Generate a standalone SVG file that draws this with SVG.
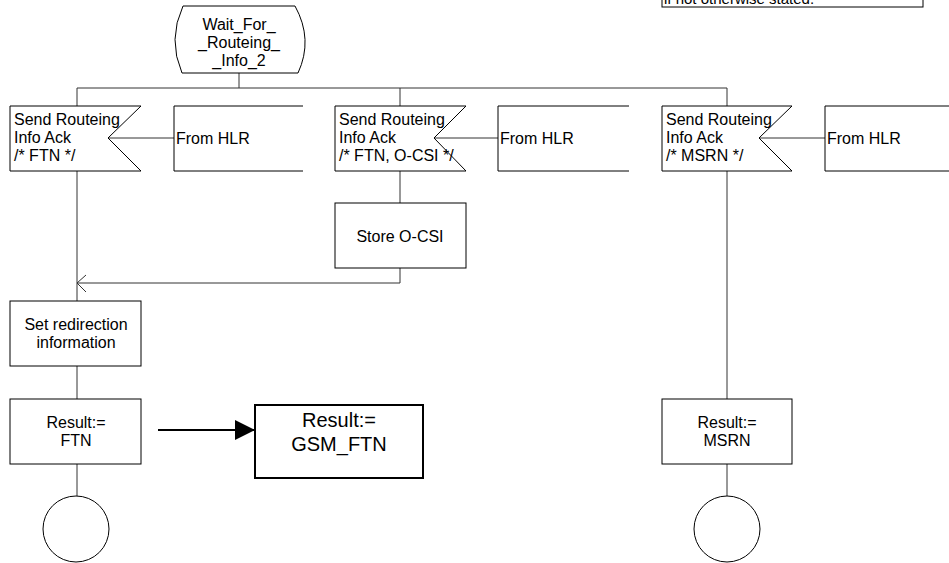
<svg xmlns="http://www.w3.org/2000/svg" width="949" height="563" viewBox="0 0 949 563">
<style>
text{font-family:"Liberation Sans",Arial,sans-serif;font-size:16px;fill:#000}
.s{fill:#fff;stroke:#000;stroke-width:1}
.c{fill:none;stroke:#333;stroke-width:1}
.m{text-anchor:middle}
</style>
<defs>
<marker id="fa" markerWidth="20" markerHeight="20" refX="20" refY="10" orient="auto" markerUnits="userSpaceOnUse"><path d="M0,0 L20,10 L0,20 Z" fill="#000"/></marker>
</defs>
<rect width="949" height="563" fill="#fff"/>
<g id="connectors">
<path class="c" d="M239,73 V88"/>
<path class="c" d="M77,88 H727"/>
<path class="c" d="M77,88 V106"/>
<path class="c" d="M400,88 V106"/>
<path class="c" d="M727,88 V106"/>
<path class="c" d="M108,138 H174"/>
<path class="c" d="M434,138 H498"/>
<path class="c" d="M759,138 H825"/>
<path class="c" d="M77,171 V301"/>
<path class="c" d="M400,171 V203"/>
<path class="c" d="M400,268 V283 H77"/>
<path class="c" d="M86,275 L77,283 L86,292"/>
<path class="c" d="M77,366 V399"/>
<path class="c" d="M77,464 V496"/>
<path class="c" d="M727,171 V399"/>
<path class="c" d="M727,464 V496"/>
<path d="M158,430 H255" stroke="#000" stroke-width="2" fill="none" marker-end="url(#fa)"/>
</g>
<g id="note">
<rect class="s" x="662" y="-30" width="261" height="37"/>
<text x="664" y="4" style="font-size:15px">if not otherwise stated.</text>
</g>
<g id="state">
<path class="s" d="M183,6 H295 Q313.5,39.5 298,73 H182 Q167.5,39.5 183,6 Z"/>
<text class="m" x="239" y="30">Wait_For_</text>
<text class="m" x="239" y="48">_Routeing_</text>
<text class="m" x="239" y="66">_Info_2</text>
</g>
<g id="input1">
<path class="s" d="M10,106 H141 L108,138 L141,171 H10 Z"/>
<text x="14" y="125">Send Routeing</text>
<text x="14" y="143">Info Ack</text>
<text x="14" y="161">/* FTN */</text>
</g>
<g id="comment1">
<path class="c" style="stroke:#000" d="M303,106 H174 V171 H303"/>
<text x="176" y="144">From HLR</text>
</g>
<g id="input2">
<path class="s" d="M335,106 H466 L434,138 L466,171 H335 Z"/>
<text x="339" y="125">Send Routeing</text>
<text x="339" y="143">Info Ack</text>
<text x="339" y="161">/* FTN, O-CSI */</text>
</g>
<g id="comment2">
<path class="c" style="stroke:#000" d="M629,106 H498 V171 H629"/>
<text x="500" y="144">From HLR</text>
</g>
<g id="input3">
<path class="s" d="M662,106 H792 L759,138 L792,171 H662 Z"/>
<text x="666" y="125">Send Routeing</text>
<text x="666" y="143">Info Ack</text>
<text x="666" y="161">/* MSRN */</text>
</g>
<g id="comment3">
<path class="c" style="stroke:#000" d="M955,106 H825 V171 H955"/>
<text x="827" y="144">From HLR</text>
</g>
<g id="storeOCSI">
<rect class="s" x="335" y="203" width="131" height="65"/>
<text class="m" x="400" y="242">Store O-CSI</text>
</g>
<g id="setRedirection">
<rect class="s" x="10" y="301" width="131" height="65"/>
<text class="m" x="76" y="330">Set redirection</text>
<text class="m" x="76" y="348">information</text>
</g>
<g id="resultFTN">
<rect class="s" x="10" y="399" width="131" height="65"/>
<text class="m" x="76" y="428">Result:=</text>
<text class="m" x="76" y="446">FTN</text>
</g>
<g id="resultGSM">
<rect x="255" y="405" width="168" height="73" fill="#fff" stroke="#000" stroke-width="2"/>
<text class="m" x="339" y="427" style="font-size:20px">Result:=</text>
<text class="m" x="339" y="451" style="font-size:20px">GSM_FTN</text>
</g>
<g id="resultMSRN">
<rect class="s" x="662" y="399" width="130" height="65"/>
<text class="m" x="727" y="428">Result:=</text>
<text class="m" x="727" y="446">MSRN</text>
</g>
<g id="join1">
<circle class="s" cx="76" cy="529" r="33"/>
</g>
<g id="join2">
<circle class="s" cx="727" cy="529" r="33"/>
</g>
</svg>
